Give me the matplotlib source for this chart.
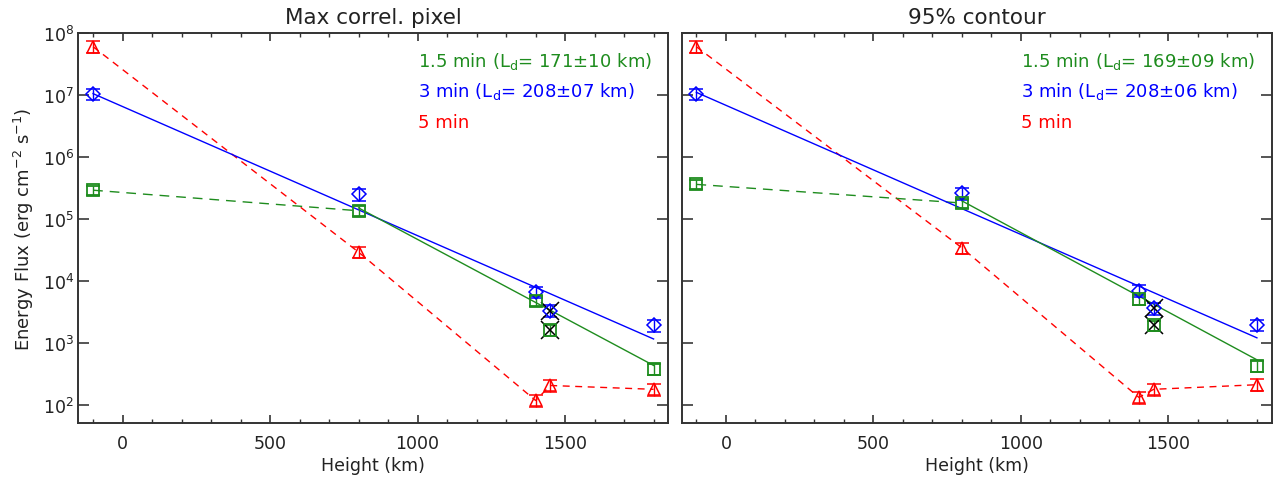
import numpy as np
import matplotlib.pyplot as plt
from matplotlib.ticker import MultipleLocator, NullLocator, FixedLocator

# heights of the observed layers (km)
height = [-100, 800, 1400, 1450, 1800]

# left panel: max correlation pixel
left_red = [6.0e7, 2.9e4, 117, 204, 177]
left_red_err = [1.3e7, 6.0e3, 25, 45, 38]
left_blue = [1.05e7, 2.5e5, 6.6e3, 3.3e3, 1.9e3]
left_blue_err = [2.2e6, 5.5e4, 1.4e3, 7.0e2, 4.2e2]
left_green = [2.9e5, 1.35e5, 4.8e3, 1.6e3, 380]
left_green_err = [5.0e4, 2.5e4, 9.0e2, 3.0e2, 75]

# right panel: 95% contour
right_red = [6.0e7, 3.4e4, 131, 177, 210]
right_red_err = [1.3e7, 7.0e3, 28, 40, 45]
right_blue = [1.05e7, 2.6e5, 6.9e3, 3.6e3, 1.95e3]
right_blue_err = [2.2e6, 5.5e4, 1.5e3, 8.0e2, 4.2e2]
right_green = [3.6e5, 1.8e5, 5.0e3, 1.9e3, 425]
right_green_err = [6.0e4, 3.2e4, 9.5e2, 3.5e2, 85]

# exponential fits (endpoints of the straight lines in log space)
left_blue_fit_h = [-100, 1800]
left_blue_fit = [1.05e7, 1.15e3]
left_green_fit_h = [800, 1800]
left_green_fit = [1.5e5, 4.3e2]
right_blue_fit_h = [-100, 1800]
right_blue_fit = [1.1e7, 1.2e3]
right_green_fit_h = [800, 1800]
right_green_fit = [1.95e5, 5.3e2]

titles = ['Max correl. pixel', '95% contour']
left_labels = ['1.5 min (L$_\\mathregular{d}$= 171\u00b110 km)',
               '3 min (L$_\\mathregular{d}$= 208\u00b107 km)', '5 min']
right_labels = ['1.5 min (L$_\\mathregular{d}$= 169\u00b109 km)',
                '3 min (L$_\\mathregular{d}$= 208\u00b106 km)', '5 min']

RED = '#ff0000'
BLUE = '#0000ff'
GREEN = '#1e8c1e'
INK = '#222222'

plt.rcParams['font.family'] = ['DejaVu Sans']
plt.rcParams['mathtext.default'] = 'regular'
plt.rcParams['text.color'] = INK
plt.rcParams['axes.labelcolor'] = INK
plt.rcParams['xtick.labelcolor'] = INK
plt.rcParams['ytick.labelcolor'] = INK

fig = plt.figure(figsize=(12.84, 4.81), dpi=100)
ax1 = fig.add_axes([0.0610, 0.1185, 0.4595, 0.8108])
ax2 = fig.add_axes([0.5309, 0.1185, 0.4595, 0.8108])

panels = [
    (ax1, left_red, left_red_err, left_blue, left_blue_err, left_green, left_green_err,
     left_blue_fit_h, left_blue_fit, left_green_fit_h, left_green_fit, left_labels),
    (ax2, right_red, right_red_err, right_blue, right_blue_err, right_green, right_green_err,
     right_blue_fit_h, right_blue_fit, right_green_fit_h, right_green_fit, right_labels),
]

for i, (ax, r, re, b, be, g, ge, bfh, bf, gfh, gf, labels) in enumerate(panels):
    # connecting lines
    ax.plot(height, r, color=RED, lw=1, dashes=(5, 4))
    ax.plot(height[:2], g[:2], color=GREEN, lw=1, dashes=(7, 5))
    ax.plot(bfh, bf, color=BLUE, lw=1)
    ax.plot(gfh, gf, color=GREEN, lw=1)

    # points with error bars
    ax.errorbar(height, r, yerr=re, fmt='^', color=RED, mfc='none', ms=9, mew=1.1,
                capsize=5, elinewidth=1, capthick=1.1)
    ax.errorbar(height, b, yerr=be, fmt='D', color=BLUE, mfc='none', ms=7, mew=1.1,
                capsize=5, elinewidth=1, capthick=1.1)
    ax.errorbar(height, g, yerr=ge, fmt='s', color=GREEN, mfc='none', ms=8, mew=1.3,
                capsize=5, elinewidth=1, capthick=1.3)
    # black crosses on the 1450 km layer
    ax.plot([height[3], height[3]], [b[3], g[3]], 'x', color='black', ms=13, mew=1.1,
            ls='none')

    ax.set_yscale('log')
    ax.set_xlim(-150, 1850)
    ax.set_ylim(50.6, 1e8)
    ax.set_xticks([0, 500, 1000, 1500])
    ax.xaxis.set_minor_locator(MultipleLocator(100))
    ax.yaxis.set_major_locator(FixedLocator([1e2, 1e3, 1e4, 1e5, 1e6, 1e7, 1e8]))
    ax.yaxis.set_minor_locator(NullLocator())
    ax.tick_params(axis='x', which='major', direction='in', top=True, length=6,
                   width=1.2, color='#333333', labelsize=12.5, pad=8)
    ax.tick_params(axis='x', which='minor', direction='in', top=True, length=3,
                   width=1.0, color='#333333')
    ax.tick_params(axis='y', which='major', direction='in', right=True, length=8,
                   width=1.4, color='#555555', labelsize=12.5, pad=3)
    for sp in ax.spines.values():
        sp.set_linewidth(1.4)
        sp.set_color('#333333')

    ax.set_title(titles[i], fontsize=15.5, pad=7)
    ax.set_xlabel('Height (km)', fontsize=12.5, labelpad=3)

    for txt, col, yy in zip(labels, [GREEN, BLUE, RED], [0.929, 0.852, 0.773]):
        ax.text(1000, yy, txt, color=col, fontsize=13, va='center', ha='left',
                transform=ax.get_xaxis_transform())

ax1.set_ylabel('Energy Flux (erg cm$^{-2}$ s$^{-1}$)', fontsize=13, labelpad=5)
ax2.tick_params(axis='y', labelleft=False)

fig.savefig('out.png', dpi=100)
